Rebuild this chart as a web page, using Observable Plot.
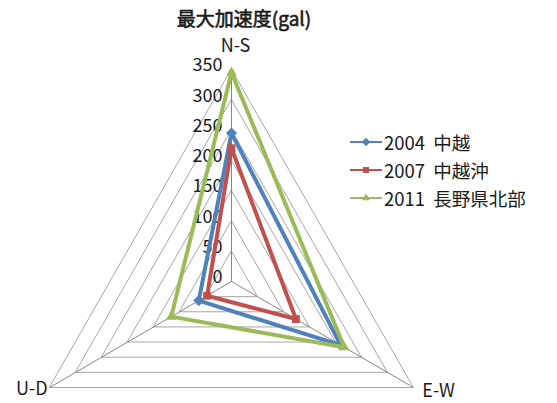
<!DOCTYPE html>
<html>
<head>
<meta charset="utf-8">
<script src="https://cdn.jsdelivr.net/npm/d3@7"></script>
<script src="https://cdn.jsdelivr.net/npm/@observablehq/plot@0.6"></script>
<style>
  body { margin: 0; background: #fff; }
  #chart { position: relative; width: 557px; height: 403px; font-family: "Noto Sans CJK JP", sans-serif; color: #1a1a1a; }
  #chart svg { position: absolute; left: 0; top: 0; }
  .title { position: absolute; left: 0; width: 488px; top: 6px; text-align: center; font-size: 19px; font-weight: normal; line-height: 24px; -webkit-text-stroke: 0.6px #1a1a1a; }
  .legend { position: absolute; left: 350px; top: 128px; }
  .legend .row { display: flex; align-items: center; height: 28px; font-size: 18.5px; white-space: pre; }
  .legend svg { position: static !important; margin-right: 1px; }
</style>
</head>
<body>
<div id="chart">
  <div class="title">最大加速度(gal)</div>
  <div class="legend" id="legend"></div>
</div>
<script>
// Radar axes (clockwise from the top) and radial tick values
const axes = ["N-S", "E-W", "U-D"];
const ticks = [0, 50, 100, 150, 200, 250, 300, 350];

// Peak ground acceleration per component (gal)
const years = ["2004", "2007", "2011"];
const quakes = ["中越", "中越沖", "長野県北部"];
const pga2004 = [245, 210, 63];
const pga2007 = [220, 124, 47];
const pga2011 = [345, 217, 116];

const colors = ["#4F81BD", "#C0504D", "#9BBB59"];
const symbols = ["diamond2", "square2", "triangle2"];

const maxVal = d3.max(ticks);
const angle = axis => Math.PI / 2 - axes.indexOf(axis) * 2 * Math.PI / axes.length;
const px = (axis, v) => v * Math.cos(angle(axis));
const py = (axis, v) => v * Math.sin(angle(axis));

// Concentric triangular grid rings
const rings = ticks.filter(t => t > 0).flatMap(t => axes.map(axis => ({ring: t, axis, v: t})));

// Series points
const values = [pga2004, pga2007, pga2011];
const rows = years.flatMap((yr, s) => axes.map((axis, i) => ({series: s, axis, v: values[s][i]})));

const marks = [
  Plot.line(rings, {x: d => px(d.axis, d.v), y: d => py(d.axis, d.v), z: "ring", curve: "linear-closed", stroke: "#a6a6a6", strokeWidth: 1}),
  Plot.link(axes, {x1: 0, y1: 0, x2: a => px(a, maxVal), y2: a => py(a, maxVal), stroke: "#868686", strokeWidth: 1}),
  Plot.text(ticks, {x: 0, y: t => t, text: t => String(t), textAnchor: "end", dx: -9, dy: -4, fontSize: 18, fill: "#1a1a1a"}),
  Plot.text(axes.slice(0, 1), {x: a => px(a, maxVal), y: a => py(a, maxVal), text: a => a, dx: 4, dy: -23, fontSize: 18, fill: "#1a1a1a"}),
  Plot.text(axes.slice(1, 2), {x: a => px(a, maxVal), y: a => py(a, maxVal), text: a => a, textAnchor: "start", dx: 9, dy: 4, fontSize: 18, fill: "#1a1a1a"}),
  Plot.text(axes.slice(2, 3), {x: a => px(a, maxVal), y: a => py(a, maxVal), text: a => a, textAnchor: "end", dx: -2, dy: 2, fontSize: 18, fill: "#1a1a1a"})
];
years.forEach((yr, s) => {
  const data = rows.filter(d => d.series === s);
  marks.push(
    Plot.line(data, {x: d => px(d.axis, d.v), y: d => py(d.axis, d.v), curve: "linear-closed", stroke: colors[s], strokeWidth: 4, strokeLinejoin: "round"}),
    Plot.dot(data, {x: d => px(d.axis, d.v), y: d => py(d.axis, d.v), symbol: symbols[s], r: 5, fill: colors[s], stroke: "none"})
  );
});

const chart = Plot.plot({
  width: 557,
  height: 403,
  margin: 0,
  style: {fontFamily: "\"Noto Sans CJK JP\", sans-serif", fontSize: "18px", background: "transparent"},
  x: {type: "linear", domain: [-maxVal, maxVal], range: [21, 441], axis: null},
  y: {type: "linear", domain: [-maxVal, maxVal], range: [493, 69], axis: null},
  marks
});
document.getElementById("chart").prepend(chart);

// Legend rows: line sample with marker, year and event name
const legend = document.getElementById("legend");
years.forEach((yr, s) => {
  const row = document.createElement("div");
  row.className = "row";
  const sym = {diamond2: d3.symbolDiamond2, square2: d3.symbolSquare2, triangle2: d3.symbolTriangle2}[symbols[s]];
  const svg = d3.create("svg").attr("width", 33).attr("height", 16);
  svg.append("line").attr("x1", 0).attr("x2", 32).attr("y1", 8).attr("y2", 8).attr("stroke", colors[s]).attr("stroke-width", 2);
  svg.append("path").attr("d", d3.symbol(sym, 45)()).attr("transform", "translate(16,8)").attr("fill", colors[s]);
  row.appendChild(svg.node());
  const label = document.createElement("span");
  label.textContent = yr + "  " + quakes[s];
  row.appendChild(label);
  legend.appendChild(row);
});
</script>
</body>
</html>
